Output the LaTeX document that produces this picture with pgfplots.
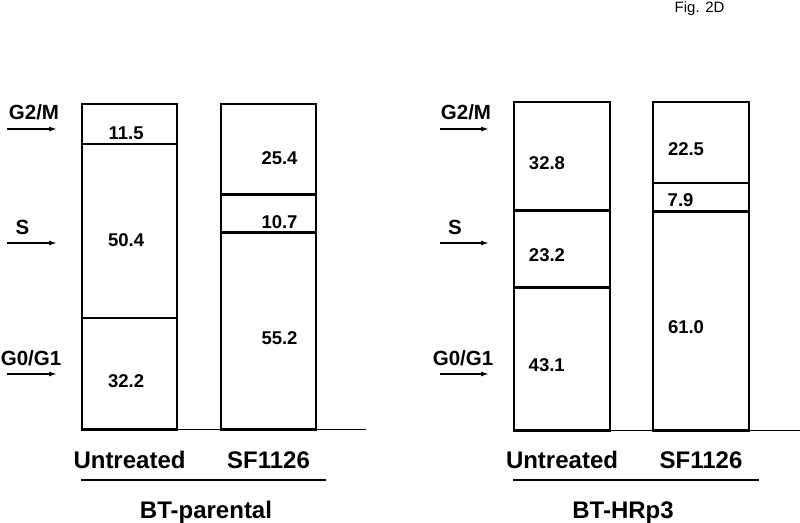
\documentclass[border=0pt]{standalone}
\usepackage{pgfplots}
\usepackage{pgfplotstable}
\usepackage{fontspec}
\setmainfont{Liberation Sans}
\usetikzlibrary{arrows.meta}
\pgfplotsset{compat=1.18}

% cell cycle phase percentages (bars are drawn normalised to full height)
\pgfplotstableread{
x g0 s g2
0 32.2 50.4 11.5
1 55.2 10.7 25.4
}\parental
\pgfplotstableread{
x g0 s g2
0 43.1 23.2 32.8
1 61.0 7.9 22.5
}\hrp
% where the numbers sit inside the bars
\pgfplotstableread{
x y lab
-0.025 91.1 11.5
-0.025 58.2 50.4
-0.025 14.9 32.2
1.079 83.5 25.4
1.079 63.8 10.7
1.079 28.0 55.2
}\parlab
\pgfplotstableread{
x y lab
-0.108 81.5 32.8
-0.108 53.4 23.2
-0.110 19.9 43.1
0.892 85.7 22.5
0.853 70.0 7.9
0.892 31.6 61.0
}\hrplab

\newcommand{\numfont}{\fontsize{18.5}{21}\selectfont\bfseries}
\newcommand{\phfont}{\fontsize{20.5}{24}\selectfont\bfseries}
\newcommand{\bigfont}{\fontsize{24}{28}\selectfont\bfseries}
\newcommand{\tot}{(\thisrow{g0}+\thisrow{s}+\thisrow{g2})}

\pgfplotsset{
  cellbox/.style={scale only axis, ymin=0, ymax=100, clip=false},
  seg/.style={fill=white, draw=black, line width=2.5pt},
  numlab/.style={draw=none, mark=none, nodes near coords, point meta=explicit symbolic,
    every node near coord/.append style={anchor=center, font=\numfont, text=black}},
}

\begin{document}
\begin{tikzpicture}[x=1pt,y=1pt]
\useasboundingbox (0,0) rectangle (800,522);

% BT-parental
\begin{axis}[cellbox, at={(81pt,92.5pt)}, anchor=south west,
  width=285pt, height=325.5pt, xmin=-0.349, xmax=1.701,
  ybar stacked, bar width=95pt,
  axis x line*=bottom, axis y line=none, x axis line style={line width=1.2pt},
  xtick={0,1}, xticklabels={Untreated,SF1126}, major tick length=0pt, ytick=\empty,
  xticklabel style={font=\bigfont, anchor=base, yshift=-38.5pt}]
\addplot[seg] table[x=x, y expr=100*\thisrow{g0}/\tot] {\parental};
\addplot[seg] table[x=x, y expr=100*\thisrow{s}/\tot] {\parental};
\addplot[seg] table[x=x, y expr=100*\thisrow{g2}/\tot] {\parental};
\end{axis}
\begin{axis}[cellbox, at={(81pt,92.5pt)}, anchor=south west,
  width=285pt, height=325.5pt, xmin=-0.349, xmax=1.701, axis lines=none]
\addplot[numlab] table[x=x, y=y, meta=lab] {\parlab};
\end{axis}

% BT-HRp3
\begin{axis}[cellbox, at={(513pt,91.5pt)}, anchor=south west,
  width=287pt, height=328.5pt, xmin=-0.3525, xmax=1.712,
  ybar stacked, bar width=96pt,
  axis x line*=bottom, axis y line=none, x axis line style={line width=1.2pt},
  xtick={0,1}, xticklabels={Untreated,SF1126}, major tick length=0pt, ytick=\empty,
  xticklabel style={font=\bigfont, anchor=base, yshift=-37.5pt}]
\addplot[seg] table[x=x, y expr=100*\thisrow{g0}/\tot] {\hrp};
\addplot[seg] table[x=x, y expr=100*\thisrow{s}/\tot] {\hrp};
\addplot[seg] table[x=x, y expr=100*\thisrow{g2}/\tot] {\hrp};
\end{axis}
\begin{axis}[cellbox, at={(513pt,91.5pt)}, anchor=south west,
  width=287pt, height=328.5pt, xmin=-0.3525, xmax=1.712, axis lines=none]
\addplot[numlab] table[x=x, y=y, meta=lab] {\hrplab};
\end{axis}

% phase markers
\foreach \xa/\xb/\xg/\xs/\xo in {7/57/34/22.5/31, 440/489/466/455/463} {
  \node[font=\phfont, anchor=base] at (\xg,402) {G2/M};
  \node[font=\phfont, anchor=base] at (\xs,287) {S};
  \node[font=\phfont, anchor=base] at (\xo,156) {G0/G1};
  \draw[-{Latex[length=8pt,width=5pt]}, line width=1.4pt] (\xa,393) -- (\xb,393);
  \draw[-{Latex[length=8pt,width=5pt]}, line width=1.4pt] (\xa,279) -- (\xb,279);
  \draw[-{Latex[length=8pt,width=5pt]}, line width=1.4pt] (\xa,148) -- (\xb,148);
}

% group labels
\draw[line width=1.3pt] (80.6,42) -- (325.5,42);
\draw[line width=1.3pt] (513,42) -- (758.7,42);
\node[font=\bigfont, anchor=base] at (206,4) {BT-parental};
\node[font=\bigfont, anchor=base] at (623,4) {BT-HRp3};

\node[font=\fontsize{15}{18}\selectfont, anchor=base east] at (728,509) {Fig. 2D};
\end{tikzpicture}
\end{document}
